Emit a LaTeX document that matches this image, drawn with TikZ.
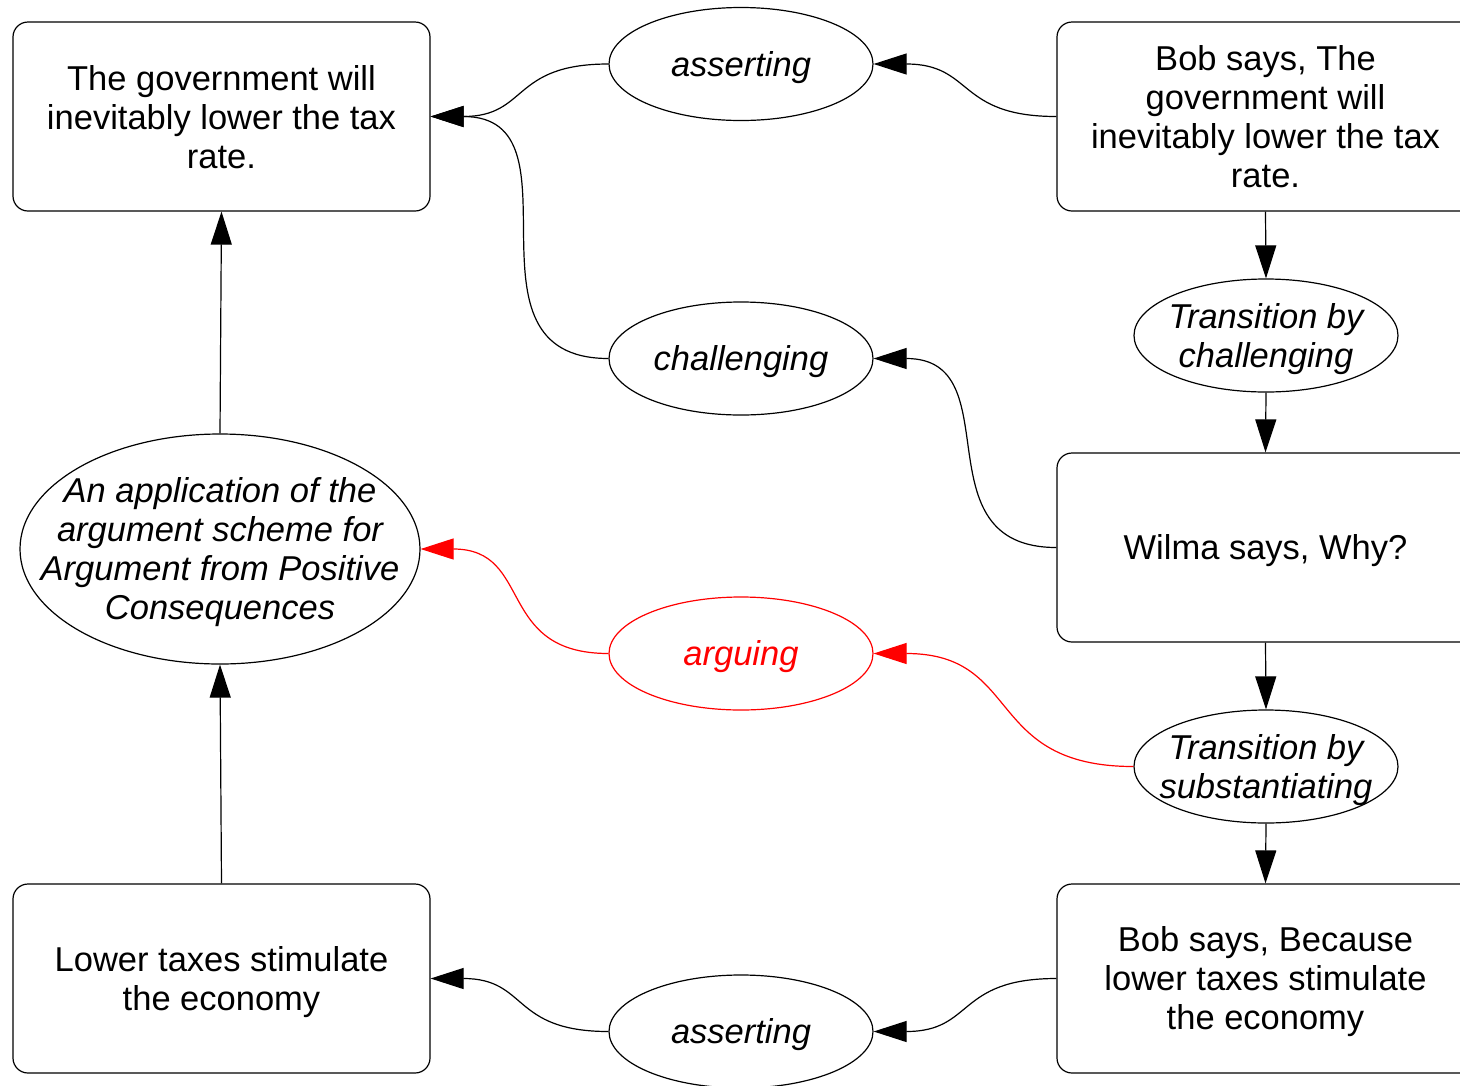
\documentclass[tikz,border=0pt]{standalone}
\usepackage{fontspec}
\setmainfont{Liberation Sans}
\usetikzlibrary{shapes.geometric,arrows.meta}

\definecolor{argred}{RGB}{255,0,0}

\tikzset{
  every picture/.style={x=1pt,y=-1pt},
  box/.style={draw, line width=1.2pt, rounded corners=15pt,
    minimum width=417pt, minimum height=189pt, inner sep=0pt},
  oval/.style={draw, line width=1.2pt, ellipse,
    minimum width=264pt, minimum height=113pt, inner sep=0pt},
  boxtext/.style={align=center, inner sep=0pt, yshift=-3.5pt,
    font=\fontsize{34.5}{39}\selectfont},
  ovaltext/.style={boxtext, font=\fontsize{34.5}{39}\selectfont\itshape},
  nodescender/.style={yshift=3pt},
  link/.style={-{Triangle[length=33pt,width=21pt]}, line width=1.2pt},
  redlink/.style={-{Triangle[length=33pt,width=21pt,fill=argred]},
    line width=1.2pt, draw=argred},
  scurve/.style={out=180, in=0, looseness=1.35},
}

\begin{document}
\begin{tikzpicture}
\useasboundingbox (0,0) rectangle (1460,1085);

% statements (left column)
\node[box] (claim) at (221.5,116.5) {};
\node[boxtext, nodescender] (claim-t) at (claim) {The government will\\inevitably lower the tax\\rate.};
\node[box] (premise) at (221.5,978.5) {};
\node[boxtext] (premise-t) at (premise) {Lower taxes stimulate\\the economy};

% argument scheme application
\node[oval, minimum width=400pt, minimum height=230pt] (scheme) at (220,549) {};
\node[ovaltext] (scheme-t) at (scheme) {An application of the\\argument scheme for\\Argument from Positive\\Consequences};

% illocutionary connections (middle column)
\node[oval] (assert1) at (741,64) {};
\node[ovaltext] (assert1-t) at (assert1) {asserting};
\node[oval] (challenge) at (741,358.5) {};
\node[ovaltext] (challenge-t) at (challenge) {challenging};
\node[oval, draw=argred] (arguing) at (741,653.5) {};
\node[ovaltext, text=argred] (arguing-t) at (arguing) {arguing};
\node[oval] (assert2) at (741,1031.5) {};
\node[ovaltext] (assert2-t) at (assert2) {asserting};

% dialogue locutions and transitions (right column)
\node[box] (bob1) at (1265.5,116.5) {};
\node[boxtext, nodescender] (bob1-t) at (bob1) {Bob says, The\\government will\\inevitably lower the tax\\rate.};
\node[oval] (tchal) at (1266,335.5) {};
\node[ovaltext] (tchal-t) at (tchal) {Transition by\\challenging};
\node[box] (wilma) at (1265.5,547.5) {};
\node[boxtext] (wilma-t) at (wilma) {Wilma says, Why?};
\node[oval] (tsubst) at (1266,766.5) {};
\node[ovaltext] (tsubst-t) at (tsubst) {Transition by\\substantiating};
\node[box] (bob2) at (1265.5,978.5) {};
\node[boxtext] (bob2-t) at (bob2) {Bob says, Because\\lower taxes stimulate\\the economy};

% dialogue flow
\draw[link] (bob1.south) -- (tchal.north);
\draw[link] (tchal.south) -- (wilma.north);
\draw[link] (wilma.south) -- (tsubst.north);
\draw[link] (tsubst.south) -- (bob2.north);

% anchoring of locutions
\draw[link] (bob1.west) to[scurve] (assert1.east);
\draw[link] (assert1.west) to[scurve] (claim.east);
\draw[link] (wilma.west) to[scurve] (challenge.east);
\draw[link] (challenge.west) to[scurve] (claim.east);
\draw[link] (bob2.west) to[scurve] (assert2.east);
\draw[link] (assert2.west) to[scurve] (premise.east);
\draw[redlink] (tsubst.west) to[scurve] (arguing.east);
\draw[redlink] (arguing.west) to[scurve] (scheme.east);

% argument structure
\draw[link] (scheme.north) -- (claim.south);
\draw[link] (premise.north) -- (scheme.south);
\end{tikzpicture}
\end{document}
